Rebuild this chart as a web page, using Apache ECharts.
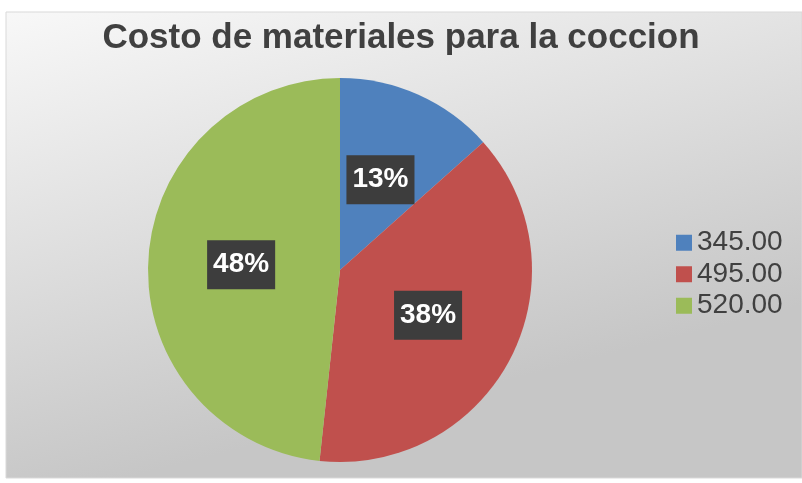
<!DOCTYPE html>
<html>
<head>
<meta charset="utf-8">
<script src="https://cdn.jsdelivr.net/npm/echarts@6/dist/echarts.min.js"></script>
<style>
html,body{margin:0;padding:0;background:#fff;}
#c{position:absolute;left:0;top:0;width:802px;height:483px;}
</style>
</head>
<body>
<div id="c"></div>
<script>
const categories = ['345.00', '495.00', '520.00'];
const values = [13.4, 38.3, 48.3];
const colors = ['#4f81bd', '#c0504d', '#9bbb59'];
const titleText = 'Costo de materiales para la coccion';

const chart = echarts.init(document.getElementById('c'), null, {renderer: 'canvas'});
chart.setOption({
  animation: false,
  graphic: [{
    type: 'rect', z: -10, silent: true,
    shape: {x: 6, y: 12, width: 796, height: 466},
    style: {
      fill: new echarts.graphic.LinearGradient(0, 0, 0.15, 1, [
        {offset: 0, color: '#f8f8f8'},
        {offset: 1, color: '#c6c6c6'}
      ]),
      stroke: '#d9d9d9', lineWidth: 1
    }
  }],
  title: {
    text: titleText,
    left: 'center',
    top: 16,
    textStyle: {fontFamily: 'Liberation Sans', fontWeight: 'bold', fontSize: 35, color: '#404040'}
  },
  legend: {
    orient: 'vertical',
    left: 671,
    top: 222,
    itemWidth: 16,
    itemHeight: 16,
    itemGap: 0,
    icon: 'rect',
    textStyle: {fontFamily: 'Liberation Sans', fontSize: 28, lineHeight: 31.5, color: '#404040', padding: [0, 0, 0, 0]},
    data: categories
  },
  series: [{
    type: 'pie',
    center: [340, 270],
    radius: 192,
    startAngle: 90,
    clockwise: true,
    itemStyle: {borderWidth: 0},
    label: {
      show: true,
      position: 'inside',
      formatter: p => Math.round(p.percent) + '%',
      fontFamily: 'Liberation Sans',
      fontWeight: 'bold',
      fontSize: 28,
      color: '#ffffff',
      backgroundColor: '#3d3d3d',
      padding: [11, 6, 10, 6]
    },
    labelLine: {show: false},
    data: categories.map((c, i) => ({name: c, value: values[i], itemStyle: {color: colors[i]}}))
  }]
});
</script>
</body>
</html>
